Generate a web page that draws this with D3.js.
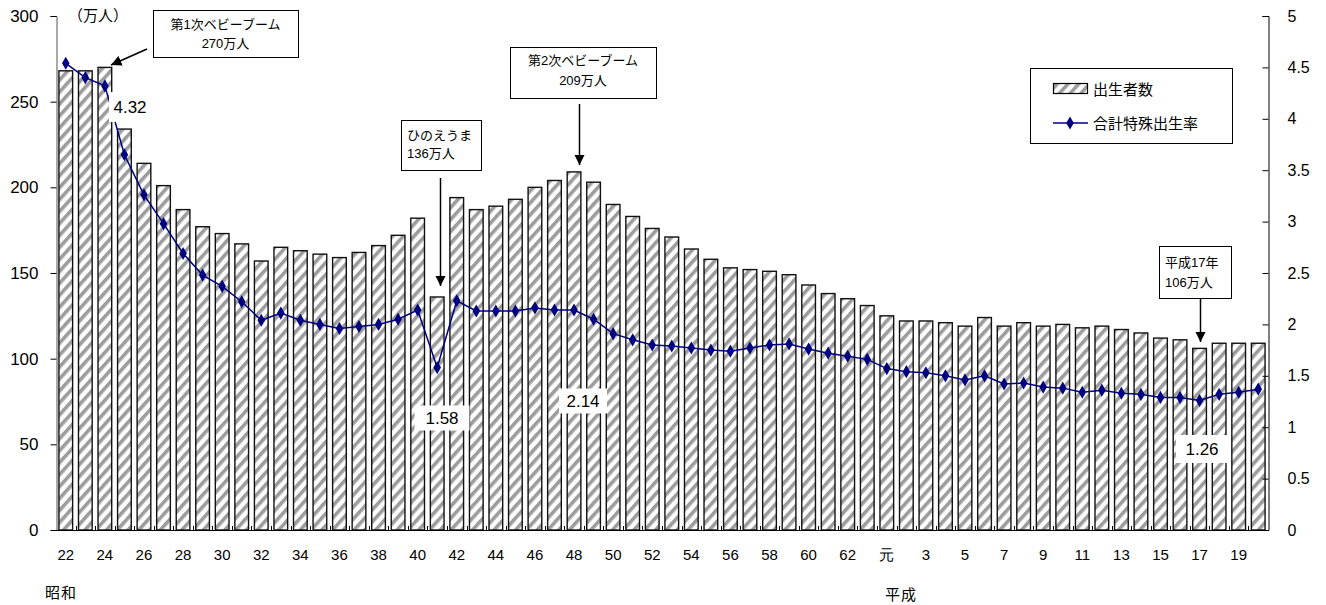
<!DOCTYPE html>
<html><head><meta charset="utf-8">
<script src="https://cdn.jsdelivr.net/npm/d3@7"></script>
<style>
body{margin:0;background:#fff;}
svg{display:block;font-family:"Liberation Sans","Noto Sans CJK JP",sans-serif;}
</style></head>
<body><svg id="c" width="1326" height="605"></svg>
<script>
// Years: Showa 22 (1947) .. Heisei 20 (2008)
const years = d3.range(1947, 2009);
const births = [268,268,270,234,214,201,187,177,173,167,157,165,163,161,159,162,166,172,182,136,
  194,187,189,193,200,204,209,203,190,183,176,171,164,158,153,152,151,149,143,138,135,131,
  125,122,122,121,119,124,119,121,119,120,118,119,117,115,112,111,106,109,109,109];
const tfr = [4.54,4.40,4.32,3.65,3.26,2.98,2.69,2.48,2.37,2.22,2.04,2.11,2.04,2.00,1.96,1.98,2.00,2.05,2.14,1.58,
  2.23,2.13,2.13,2.13,2.16,2.14,2.14,2.05,1.91,1.85,1.80,1.79,1.77,1.75,1.74,1.77,1.80,1.81,1.76,1.72,1.69,1.66,
  1.57,1.54,1.53,1.50,1.46,1.50,1.42,1.43,1.39,1.38,1.34,1.36,1.33,1.32,1.29,1.29,1.26,1.32,1.34,1.37];
const leftTicks = [0,50,100,150,200,250,300];
const rightTicks = [0,0.5,1,1.5,2,2.5,3,3.5,4,4.5,5];
function yearLabel(y){ if (y < 1989) return String(y - 1925); const h = y - 1988; return h === 1 ? "元" : String(h); }

const svg = d3.select("#c");
const x = d3.scaleBand().domain(years).range([56, 1268]).paddingInner(0.3).paddingOuter(0.15);
const yL = d3.scaleLinear().domain([0,300]).range([530,16]);
const yR = d3.scaleLinear().domain([0,5]).range([530,16]);
const cx = d => x(d) + x.bandwidth()/2;

const defs = svg.append("defs");
const pat = defs.append("pattern").attr("id","hatch").attr("patternUnits","userSpaceOnUse")
  .attr("width",8).attr("height",8).attr("patternTransform","rotate(42)");
pat.append("rect").attr("width",8).attr("height",8).attr("fill","#fff");
pat.append("rect").attr("x",0).attr("width",3.6).attr("height",8).attr("fill","#9c9c9c");

// bars
svg.append("g").selectAll("rect").data(years).join("rect")
  .attr("x", d => x(d)).attr("width", x.bandwidth())
  .attr("y", (d,i) => yL(births[i])).attr("height", (d,i) => yL(0) - yL(births[i]))
  .attr("fill","url(#hatch)").attr("stroke","#111").attr("stroke-width",1.4);

// left axis
const gl = svg.append("g").attr("transform","translate(56.5,0)")
  .call(d3.axisLeft(yL).tickValues(leftTicks).tickSize(6).tickPadding(12));
gl.select(".domain").attr("stroke","#555");
gl.selectAll("text").attr("font-size",17).attr("fill","#000");

// right axis
const gr = svg.append("g").attr("transform","translate(1268.5,0)")
  .call(d3.axisRight(yR).tickValues(rightTicks).tickSize(-6).tickPadding(19).tickFormat(d => String(d)));
gr.selectAll("text").attr("font-size",16).attr("fill","#000");

// bottom axis
const gb = svg.append("g").attr("transform","translate(0,530.5)")
  .call(d3.axisBottom(x).tickValues(years.filter((d,i) => i % 2 === 0)).tickSize(0).tickPadding(19).tickFormat(yearLabel));
gb.select(".domain").remove();
gb.selectAll("text").attr("font-size",15).attr("fill","#000");
svg.append("line").attr("x1",56).attr("x2",1268).attr("y1",530.5).attr("y2",530.5).attr("stroke","#000").attr("stroke-width",1.2);
const step = x.step();
svg.append("g").selectAll("line").data(years.slice(1)).join("line")
  .attr("x1", d => Math.round(x(d) - step*x.paddingInner()/2) + 0.5)
  .attr("x2", d => Math.round(x(d) - step*x.paddingInner()/2) + 0.5)
  .attr("y1", 530).attr("y2", 526).attr("stroke","#000");

svg.append("text").attr("x",45).attr("y",598).attr("font-size",15).attr("letter-spacing",1).text("昭和");
svg.append("text").attr("x",885).attr("y",600).attr("font-size",15).attr("letter-spacing",1).text("平成");
svg.append("text").attr("x",68).attr("y",21).attr("font-size",15).text("（万人）");

// TFR line
const line = d3.line().x(d => cx(d)).y((d,i) => yR(tfr[i]));
svg.append("path").datum(years).attr("d", line).attr("fill","none").attr("stroke","#000080").attr("stroke-width",1.5);
svg.append("g").selectAll("path").data(years).join("path")
  .attr("transform",(d,i) => `translate(${cx(d)},${yR(tfr[i])})`)
  .attr("d", d3.symbol().type(d3.symbolDiamond).size(50)).attr("fill","#000080");

// value labels with white background
function valLabel(cxp, cyp, w, h, t){
  svg.append("rect").attr("x",cxp-w/2).attr("y",cyp-h/2).attr("width",w).attr("height",h).attr("fill","#fff");
  svg.append("text").attr("x",cxp).attr("y",cyp).attr("text-anchor","middle").attr("dominant-baseline","central")
    .attr("font-size",17).text(t);
}
valLabel(130, 107, 42, 30, "4.32");
valLabel(442, 418, 55, 25, "1.58");
valLabel(583, 401, 48, 25, "2.14");
valLabel(1202, 449, 52, 28, "1.26");

// annotation boxes
defs.append("marker").attr("id","arr").attr("viewBox","0 0 10 10").attr("refX",10).attr("refY",5)
  .attr("markerWidth",7).attr("markerHeight",7).attr("orient","auto")
  .append("path").attr("d","M0,0L10,5L0,10z").attr("fill","#000");
function box(x0,y0,w,h,lines,anchor){
  svg.append("rect").attr("x",x0+0.5).attr("y",y0+0.5).attr("width",w).attr("height",h)
    .attr("fill","#fff").attr("stroke","#000").attr("stroke-width",1);
  lines.forEach(l => svg.append("text").attr("x", anchor==="middle" ? x0+w/2 : x0+6).attr("y", l[1])
    .attr("text-anchor", anchor).attr("font-size",13).attr("dominant-baseline","central").text(l[0]));
}
function arrow(x1,y1,x2,y2){
  svg.append("line").attr("x1",x1).attr("y1",y1).attr("x2",x2).attr("y2",y2)
    .attr("stroke","#000").attr("stroke-width",1.5).attr("marker-end","url(#arr)");
}
box(153,10,145,47,[["第1次ベビーブーム",24],["270万人",43]],"middle");
arrow(147,49,111,65);
box(510,47,146,51,[["第2次ベビーブーム",60],["209万人",80]],"middle");
arrow(579.5,104,579.5,165);
box(401,120,80,50,[["ひのえうま",135],["136万人",153]],"start");
arrow(440.5,178,440.5,286);
box(1159,246,72,52,[["平成17年",262],["106万人",282]],"start");
arrow(1200.5,299,1200.5,342);

// legend
svg.append("rect").attr("x",1030.5).attr("y",68.5).attr("width",202).attr("height",75).attr("fill","#fff").attr("stroke","#000");
svg.append("rect").attr("x",1053.5).attr("y",83.5).attr("width",34).attr("height",10).attr("fill","url(#hatch)").attr("stroke","#000").attr("stroke-width",1.2);
svg.append("text").attr("x",1093).attr("y",89).attr("dominant-baseline","central").attr("font-size",15).text("出生者数");
svg.append("line").attr("x1",1053).attr("x2",1088).attr("y1",123).attr("y2",123).attr("stroke","#000080").attr("stroke-width",1.5);
svg.append("path").attr("transform","translate(1070,123)").attr("d", d3.symbol().type(d3.symbolDiamond).size(50)).attr("fill","#000080");
svg.append("text").attr("x",1093).attr("y",123).attr("dominant-baseline","central").attr("font-size",15).text("合計特殊出生率");
</script></body></html>
